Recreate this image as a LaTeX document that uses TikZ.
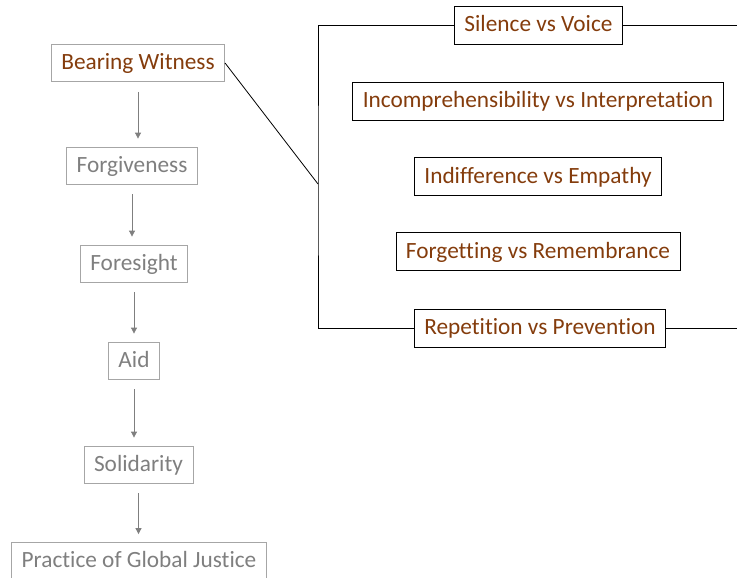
\documentclass[tikz,border=0pt]{standalone}
\usepackage{fontspec}
\setmainfont{Carlito}[Ligatures=NoCommon]
\usetikzlibrary{arrows.meta, calc}

\definecolor{witnessbrown}{RGB}{132,60,12}
\definecolor{stepgray}{RGB}{127,127,127}
\definecolor{boxgray}{RGB}{166,166,166}

\tikzset{
  stage/.style={draw=boxgray, text=stepgray, line width=0.8pt, minimum height=37pt,
    inner xsep=10pt, text height=17pt, text depth=4pt, font=\fontsize{23.3}{27}\selectfont},
  pairbox/.style={draw=black, text=witnessbrown, line width=0.8pt, minimum height=38pt,
    inner xsep=10pt, text height=17pt, text depth=4pt, font=\fontsize{23.3}{27}\selectfont},
  link/.style={draw=stepgray, line width=0.8pt, -{Triangle[length=6pt,width=6pt]},
    shorten <=10pt, shorten >=8pt}
}

\begin{document}
\begin{tikzpicture}[x=1pt, y=-1pt]
\useasboundingbox (0,0) rectangle (737,578);

 %%Parameters
%% column positions, can be modified
\def\pairCol{538}
\def\bracketPos{318}

%% left column : stages
\node[stage, text=witnessbrown] (bw) at (138, 63) {Bearing Witness};
\node[stage] (fg) at (132, 165.5) {Forgiveness};
\node[stage] (fs) at (134, 263.5) {Foresight};
\node[stage] (aid) at (134, 360.5) {Aid};
\node[stage] (sol) at (138.5, 464.5) {Solidarity};
\node[stage] (pgj) at (139, 561) {Practice of Global Justice};

\draw[link] (bw.south) -- (bw.south |- fg.north);
\draw[link] (fg.south) -- (fg.south |- fs.north);
\draw[link] (fs.south) -- (fs.south |- aid.north);
\draw[link] (aid.south) -- (aid.south |- sol.north);
\draw[link] (sol.south) -- (sol.south |- pgj.north);

%% right column : pairs
\node[pairbox] (sv) at (538.5, 25) {Silence vs Voice};
\node[pairbox] (ii) at (\pairCol, 101) {Incomprehensibility vs Interpretation};
\node[pairbox] (ie) at (\pairCol, 176.5) {Indifference vs Empathy};
\node[pairbox] (fr) at (\pairCol, 251.5) {Forgetting vs Remembrance};
\node[pairbox] (rp) at (540, 328) {Repetition vs Prevention};

%% bracket
\coordinate (bend) at (\bracketPos, 184);
\coordinate (topend) at (737, 25);
\coordinate (botend) at (737, 328);

\draw[line width=0.8pt] (bw.east) -- (bend);
\draw[line width=0.8pt] (sv.west) -| (bend) |- (rp.west);
% open ends to the right
\draw[line width=0.8pt] (sv.east) -- (topend);
\draw[line width=0.8pt] (rp.east) -- (botend);

\end{tikzpicture}
\end{document}
